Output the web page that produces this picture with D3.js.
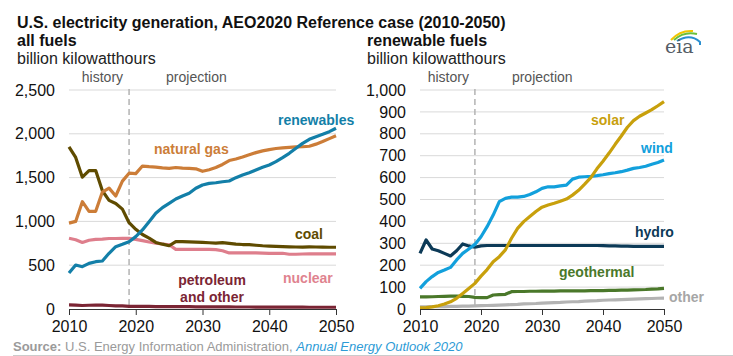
<!DOCTYPE html>
<html><head><meta charset="utf-8">
<script src="https://cdn.jsdelivr.net/npm/d3@7"></script>
<style>
body{margin:0;background:#fff;}
svg{display:block;font-family:Arial,"Liberation Sans",sans-serif;}
</style></head>
<body><svg id="c" width="733" height="356"></svg>
<script>
const years = [2010,2011,2012,2013,2014,2015,2016,2017,2018,2019,2020,2021,2022,2023,2024,2025,2026,2027,2028,2029,2030,2031,2032,2033,2034,2035,2036,2037,2038,2039,2040,2041,2042,2043,2044,2045,2046,2047,2048,2049,2050];
// all fuels (billion kWh)
const coal = [1850,1730,1505,1580,1580,1350,1240,1205,1140,985,910,850,810,760,740,722,770,768,766,764,760,756,752,758,750,740,736,734,728,722,718,715,712,710,708,706,710,708,706,705,705];
const naturalGas = [980,1000,1225,1115,1115,1335,1380,1290,1460,1550,1545,1632,1625,1620,1612,1606,1615,1608,1605,1600,1572,1590,1615,1650,1695,1712,1735,1760,1785,1805,1820,1832,1840,1845,1850,1852,1858,1882,1912,1945,1978];
const renewables = [410,502,483,521,540,548,636,711,738,768,826,902,997,1092,1157,1206,1256,1290,1321,1378,1415,1434,1441,1453,1461,1499,1529,1556,1587,1617,1644,1682,1728,1777,1834,1891,1937,1967,1994,2024,2063];
const nuclear = [807,790,760,785,795,797,805,805,807,807,795,780,765,752,742,733,680,680,680,680,680,680,678,665,640,640,640,640,640,638,636,636,636,625,625,628,630,630,630,630,630];
const petroleum = [48,45,40,43,45,44,40,36,35,30,30,29,29,28,28,27,27,26,26,25,25,25,24,24,24,23,23,23,22,22,22,22,21,21,21,21,20,20,20,20,20];
// renewable fuels (billion kWh)
const solar = [5,6,10,15,23,33,49,71,94,117,150,180,216,239,270,323,368,399,422,445,465,475,483,492,502,520,542,570,600,640,675,712,752,790,830,860,880,895,910,928,947];
const wind = [94,125,148,167,178,190,224,254,274,295,330,376,429,490,505,511,511,514,523,535,551,558,558,562,566,593,602,604,606,609,613,618,622,627,634,642,646,652,661,669,680];
const hydro = [254,315,274,266,254,242,266,297,288,282,288,290,290,290,290,290,290,290,290,290,290,290,290,290,290,290,290,290,290,290,289,288,288,287,287,286,286,286,286,286,286];
const geothermal = [55,55,56,57,58,59,59,58,57,53,52,52,64,66,67,79,80,80,81,81,82,82,82,83,83,83,83,83,84,84,84,85,85,86,86,87,88,89,91,92,94];
const other = [10,10,11,11,11,12,12,13,13,14,15,16,17,18,19,20,21,23,24,25,27,28,29,30,32,33,34,36,37,38,40,41,42,43,44,45,46,47,48,49,50];

const leftTicks = [0,500,1000,1500,2000,2500];
const rightTicks = [0,100,200,300,400,500,600,700,800,900,1000];
const xTicks = [2010,2020,2030,2040,2050];
const lastHistoryYear = 2019;

const svg = d3.select("#c");
const FONT = 'Arial,"Liberation Sans",sans-serif';

// Title block
svg.append("text").attr("x",17).attr("y",28).attr("font-size",16).attr("font-weight","bold").attr("fill","#111")
  .text("U.S. electricity generation, AEO2020 Reference case (2010-2050)");

function panel(opts){
  const x = d3.scaleLinear().domain([2010,2050]).range([opts.x0,opts.x1]);
  const y = d3.scaleLinear().domain([0,opts.max]).range([309,90]);
  const g = svg.append("g");
  g.append("text").attr("x",opts.tx).attr("y",46).attr("font-size",16).attr("font-weight","bold").attr("fill","#111").text(opts.title);
  g.append("text").attr("x",opts.tx).attr("y",64).attr("font-size",16).attr("fill","#222").text("billion kilowatthours");
  // gridlines
  g.append("g").selectAll("line").data(opts.ticks.filter(d=>d>0)).join("line")
    .attr("x1",opts.x0).attr("x2",opts.x1).attr("y1",d=>y(d)).attr("y2",d=>y(d))
    .attr("stroke","#d9d9d9").attr("stroke-width",1);
  // y axis labels
  const ya = d3.axisLeft(y).tickValues(opts.ticks).tickFormat(d3.format(",")).tickSize(0).tickPadding(0);
  const yg = g.append("g").attr("transform",`translate(${opts.x0-14},0)`).call(ya);
  yg.select(".domain").remove();
  yg.selectAll("text").attr("font-size",16).attr("font-family",FONT).attr("fill","#111");
  // history / projection
  const xd = x(lastHistoryYear);
  g.append("line").attr("x1",xd).attr("x2",xd).attr("y1",89).attr("y2",309)
    .attr("stroke","#b3b3b3").attr("stroke-width",1.5).attr("stroke-dasharray","6,4");
  g.append("text").attr("x",xd-6).attr("y",82).attr("text-anchor","end").attr("font-size",14).attr("fill","#555").text("history");
  g.append("text").attr("x",xd+37).attr("y",82).attr("font-size",14).attr("fill","#555").text("projection");
  // lines
  const line = d3.line().x((d,i)=>x(years[i])).y(d=>y(d));
  opts.series.forEach(s=>{
    g.append("path").datum(s.values).attr("d",line).attr("fill","none")
      .attr("stroke",s.color).attr("stroke-width",3.2).attr("stroke-linejoin","round");
  });
  // x axis
  const xa = d3.axisBottom(x).tickValues(xTicks).tickFormat(d3.format("d")).tickSize(6).tickPadding(6);
  const xg = g.append("g").attr("transform","translate(0,309)").call(xa);
  xg.select(".domain").attr("stroke","#333").attr("stroke-width",1.2).attr("d",`M${opts.x0},0.5H${opts.x1}`);
  xg.selectAll(".tick line").attr("stroke","#333");
  xg.selectAll("text").attr("font-size",16).attr("font-family",FONT).attr("fill","#111");
  // labels
  opts.labels.forEach(l=>{
    const t = g.append("text").attr("x",l.x).attr("y",l.y).attr("font-size",14).attr("font-weight","bold")
      .attr("fill",l.color).attr("text-anchor",l.anchor||"start");
    l.text.forEach((s,i)=>t.append("tspan").attr("x",l.x).attr("dy",i?17:0).text(s));
  });
}

panel({x0:69,x1:336,max:2500,ticks:leftTicks,tx:17,title:"all fuels",
  series:[
    {values:petroleum,color:"#7b2534"},
    {values:nuclear,color:"#de7e8c"},
    {values:coal,color:"#5f4b00"},
    {values:naturalGas,color:"#cc7d38"},
    {values:renewables,color:"#137fa8"}
  ],
  labels:[
    {text:["renewables"],x:278,y:125,color:"#137fa8"},
    {text:["natural gas"],x:154,y:154,color:"#cc7d38"},
    {text:["coal"],x:295,y:239,color:"#5f4b00"},
    {text:["nuclear"],x:283,y:283,color:"#e0838f"},
    {text:["petroleum","and other"],x:212,y:285,color:"#7b2534",anchor:"middle"}
  ]});

panel({x0:420,x1:664,max:1000,ticks:rightTicks,tx:367,title:"renewable fuels",
  series:[
    {values:other,color:"#b3b3b3"},
    {values:geothermal,color:"#4a782a"},
    {values:hydro,color:"#0c3a57"},
    {values:wind,color:"#12a0dc"},
    {values:solar,color:"#c8a00c"}
  ],
  labels:[
    {text:["solar"],x:591,y:125,color:"#c8a00c"},
    {text:["wind"],x:641,y:153,color:"#12a0dc"},
    {text:["hydro"],x:635,y:237,color:"#0c3a57"},
    {text:["geothermal"],x:559,y:277,color:"#4a782a"},
    {text:["other"],x:669,y:302,color:"#a6a6a6"}
  ]});

// eia logo
const logo = svg.append("g");
logo.append("path").attr("d","M671,40 Q680,30 693,31").attr("fill","none").attr("stroke","#f2c500").attr("stroke-width",2);
logo.append("path").attr("d","M674,40 Q684,31 697,34").attr("fill","none").attr("stroke","#6bbf3a").attr("stroke-width",2);
logo.append("path").attr("d","M677,41 Q690,33 700,42 L700,45").attr("fill","none").attr("stroke","#2a8fd0").attr("stroke-width",2);
logo.append("text").attr("x",665).attr("y",53).attr("font-family","'DejaVu Serif','Liberation Serif',serif").attr("font-size",19).attr("fill","#555d66").text("eia");

// footer
const f = svg.append("text").attr("x",13).attr("y",351).attr("font-size",13);
f.append("tspan").attr("font-weight","bold").attr("fill","#9a9a9a").text("Source:");
f.append("tspan").attr("fill","#9a9a9a").text(" U.S. Energy Information Administration, ");
f.append("tspan").attr("fill","#2d9bd6").attr("font-style","italic").text("Annual Energy Outlook 2020");
svg.append("line").attr("x1",13).attr("x2",733).attr("y1",355.5).attr("y2",355.5).attr("stroke","#ccc");
</script></body></html>
